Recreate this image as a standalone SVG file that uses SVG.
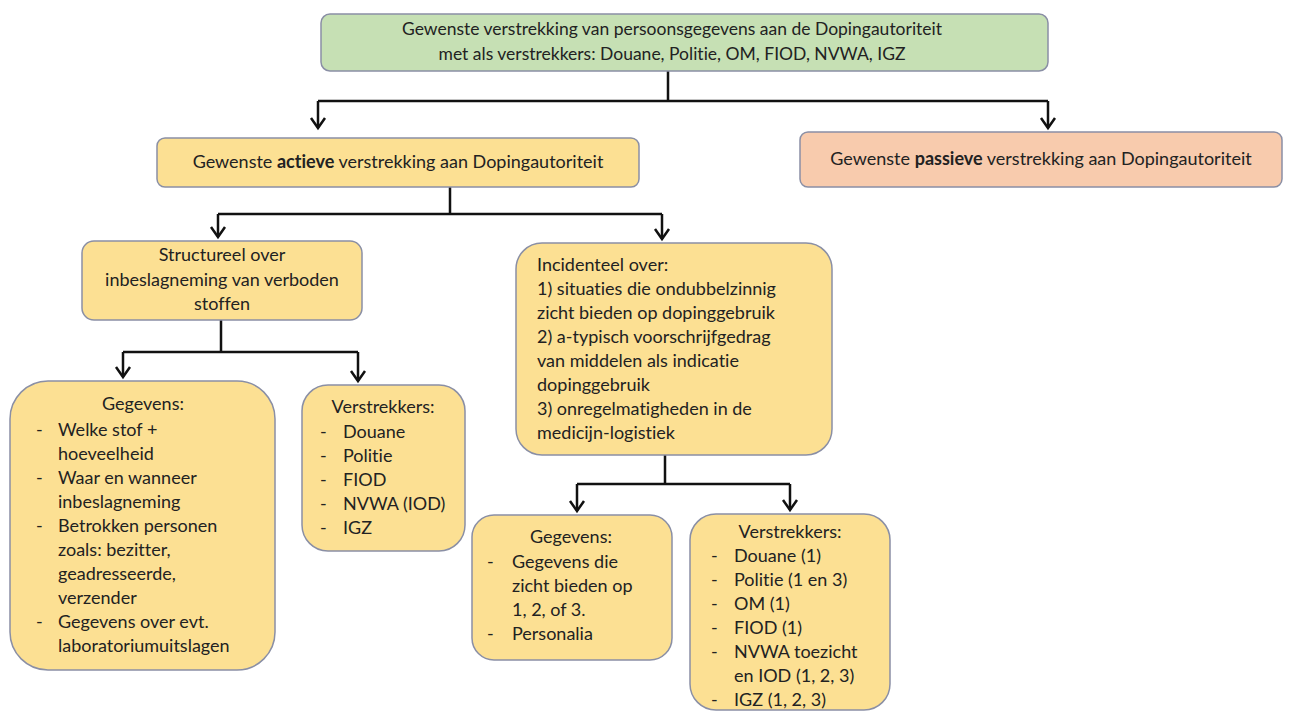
<svg xmlns="http://www.w3.org/2000/svg" width="1302" height="711" viewBox="0 0 1302 711">
<defs>
<style>
.box{stroke:#8a8fa5;stroke-width:1.5}
.g{fill:#c6e0b4}
.y{fill:#fce093}
.p{fill:#f8cbad}
text{font-family:Lato,"Liberation Sans",sans-serif;font-size:18px;fill:#222;font-variant-ligatures:none}
.t{font-size:17.5px}
.c{text-anchor:middle}
.con{fill:none;stroke:#111;stroke-width:2.5}
.arr{marker-end:url(#ah)}
</style>
<marker id="ah" markerUnits="userSpaceOnUse" markerWidth="20" markerHeight="20" refX="0" refY="0" orient="auto" overflow="visible" viewBox="-12 -10 14 20">
<path d="M-10,-7 L0,0 L-10,7" fill="none" stroke="#111" stroke-width="2.5"/>
</marker>
</defs>
<rect width="1302" height="711" fill="#fff"/>

<g id="connectors">
<path class="con" d="M668,71 V101 M318,101 H1048"/>
<path class="con arr" d="M318,101 V128"/>
<path class="con arr" d="M1048,101 V128"/>
<path class="con" d="M450,187 V214 M218,214 H662"/>
<path class="con arr" d="M218,214 V237"/>
<path class="con arr" d="M662,214 V239"/>
<path class="con" d="M221,320 V352 M123,352 H358"/>
<path class="con arr" d="M123,352 V377"/>
<path class="con arr" d="M358,352 V381"/>
<path class="con" d="M665,455 V484 M577,484 H790"/>
<path class="con arr" d="M577,484 V511"/>
<path class="con arr" d="M790,484 V510"/>
</g>

<g id="top">
<rect class="box g" x="321" y="14" width="727" height="57" rx="9"/>
<text class="c t" x="672" y="35">Gewenste verstrekking van persoonsgegevens aan de Dopingautoriteit</text>
<text class="c t" x="672" y="60">met als verstrekkers: Douane, Politie, OM, FIOD, NVWA, IGZ</text>
</g>

<g id="actief">
<rect class="box y" x="157" y="138" width="482" height="49" rx="8"/>
<text class="c" x="398" y="168">Gewenste <tspan font-weight="bold">actieve</tspan> verstrekking aan Dopingautoriteit</text>
</g>

<g id="passief">
<rect class="box p" x="800" y="132" width="482" height="55" rx="8"/>
<text class="c" x="1041" y="165">Gewenste <tspan font-weight="bold">passieve</tspan> verstrekking aan Dopingautoriteit</text>
</g>

<g id="structureel">
<rect class="box y" x="82" y="241" width="280" height="79" rx="12"/>
<text class="c" x="222" y="261">Structureel over</text>
<text class="c" x="222" y="286">inbeslagneming van verboden</text>
<text class="c" x="222" y="310">stoffen</text>
</g>

<g id="incidenteel">
<rect class="box y" x="516" y="243" width="316" height="212" rx="26"/>
<text x="537" y="271">Incidenteel over:</text>
<text x="537" y="295">1) situaties die ondubbelzinnig</text>
<text x="537" y="319">zicht bieden op dopinggebruik</text>
<text x="537" y="343">2) a-typisch voorschrijfgedrag</text>
<text x="537" y="367">van middelen als indicatie</text>
<text x="537" y="391">dopinggebruik</text>
<text x="537" y="415">3) onregelmatigheden in de</text>
<text x="537" y="439">medicijn-logistiek</text>
</g>

<g id="gegevens1">
<rect class="box y" x="10" y="381" width="265" height="289" rx="38"/>
<text class="c" x="143" y="410">Gegevens:</text>
<text x="36" y="436">-</text><text x="58" y="436">Welke stof +</text>
<text x="58" y="460">hoeveelheid</text>
<text x="36" y="484">-</text><text x="58" y="484">Waar en wanneer</text>
<text x="58" y="508">inbeslagneming</text>
<text x="36" y="532">-</text><text x="58" y="532">Betrokken personen</text>
<text x="58" y="556">zoals: bezitter,</text>
<text x="58" y="580">geadresseerde,</text>
<text x="58" y="604">verzender</text>
<text x="36" y="628">-</text><text x="58" y="628">Gegevens over evt.</text>
<text x="58" y="652">laboratoriumuitslagen</text>
</g>

<g id="verstrekkers1">
<rect class="box y" x="302" y="385" width="163" height="166" rx="26"/>
<text class="c" x="383" y="413">Verstrekkers:</text>
<text x="320" y="438">-</text><text x="343" y="438">Douane</text>
<text x="320" y="462">-</text><text x="343" y="462">Politie</text>
<text x="320" y="486">-</text><text x="343" y="486">FIOD</text>
<text x="320" y="510">-</text><text x="343" y="510">NVWA (IOD)</text>
<text x="320" y="534">-</text><text x="343" y="534">IGZ</text>
</g>

<g id="gegevens2">
<rect class="box y" x="472" y="515" width="200" height="145" rx="22"/>
<text class="c" x="571" y="543">Gegevens:</text>
<text x="487" y="568">-</text><text x="512" y="568">Gegevens die</text>
<text x="512" y="592">zicht bieden op</text>
<text x="512" y="616">1, 2, of 3.</text>
<text x="487" y="640">-</text><text x="512" y="640">Personalia</text>
</g>

<g id="verstrekkers2">
<rect class="box y" x="690" y="514" width="200" height="196" rx="26"/>
<text class="c" x="790" y="538">Verstrekkers:</text>
<text x="711" y="562">-</text><text x="734" y="562">Douane (1)</text>
<text x="711" y="586">-</text><text x="734" y="586">Politie (1 en 3)</text>
<text x="711" y="610">-</text><text x="734" y="610">OM (1)</text>
<text x="711" y="634">-</text><text x="734" y="634">FIOD (1)</text>
<text x="711" y="658">-</text><text x="734" y="658">NVWA toezicht</text>
<text x="734" y="682">en IOD (1, 2, 3)</text>
<text x="711" y="706">-</text><text x="734" y="706">IGZ (1, 2, 3)</text>
</g>
</svg>
